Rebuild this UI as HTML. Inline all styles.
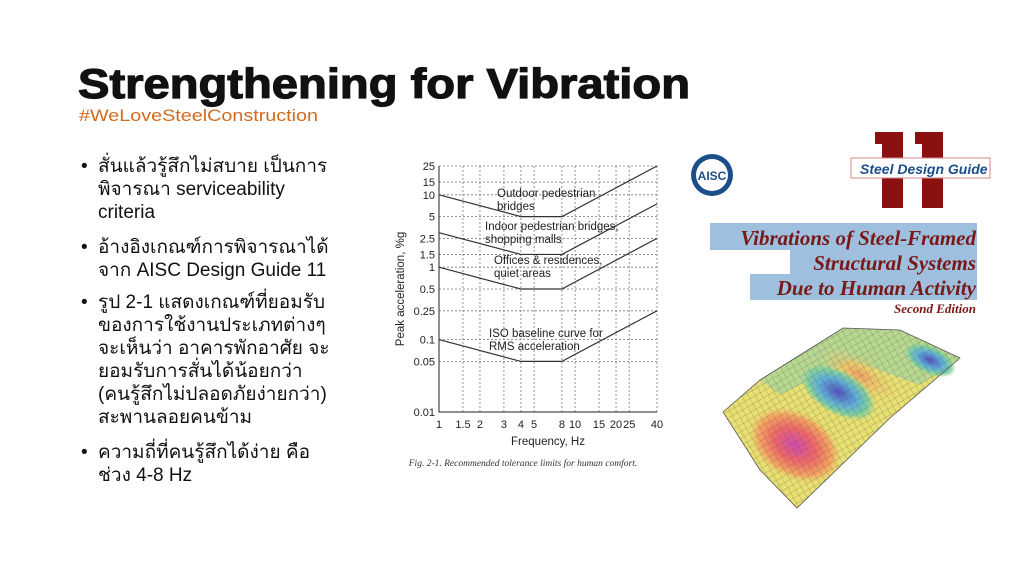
<!DOCTYPE html>
<html><head><meta charset="utf-8">
<style>
body{margin:0;width:1024px;height:576px;background:#fff;position:relative;overflow:hidden;font-family:"Liberation Sans",sans-serif}
.abs{position:absolute}
.bul{position:absolute;left:98px;font-size:19px;line-height:23px;color:#111;white-space:nowrap}
.bul:before{content:"•";position:absolute;left:-17px;top:0}
</style></head>
<body>
<svg class="abs" style="left:0;top:0" width="1024" height="130">
<text x="78" y="98" font-family="Liberation Sans" font-weight="bold" font-size="42" textLength="612" lengthAdjust="spacingAndGlyphs" fill="#111" stroke="#111" stroke-width="1.2">Strengthening for Vibration</text>
<text x="79" y="121" font-family="Liberation Sans" font-size="17" textLength="239" lengthAdjust="spacingAndGlyphs" fill="#d2691e">#WeLoveSteelConstruction</text>
</svg>
<div class="bul" style="top:155px">สั่นแล้วรู้สึกไม่สบาย เป็นการ<br>พิจารณา serviceability<br>criteria</div>
<div class="bul" style="top:236px">อ้างอิงเกณฑ์การพิจารณาได้<br>จาก AISC Design Guide 11</div>
<div class="bul" style="top:291px">รูป 2-1 แสดงเกณฑ์ที่ยอมรับ<br>ของการใช้งานประเภทต่างๆ<br>จะเห็นว่า อาคารพักอาศัย จะ<br>ยอมรับการสั่นได้น้อยกว่า<br>(คนรู้สึกไม่ปลอดภัยง่ายกว่า)<br>สะพานลอยคนข้าม</div>
<div class="bul" style="top:441px">ความถี่ที่คนรู้สึกได้ง่าย คือ<br>ช่วง 4-8 Hz</div>

<svg id="chart" class="abs" style="left:0;top:0" width="700" height="576"></svg>

<svg class="abs" style="left:0;top:0" width="1024" height="576">
<g>
<circle cx="712" cy="175" r="21" fill="#1c4f8a"/><circle cx="712" cy="175" r="16" fill="#fff"/>
<text x="712" y="180" text-anchor="middle" font-size="12" font-weight="bold" fill="#1c4f8a" font-family="Liberation Sans">AISC</text>
</g>
<g fill="#8b1010">
<rect x="882" y="132" width="21" height="76"/><rect x="875" y="132" width="10" height="12"/>
<rect x="922" y="132" width="21" height="76"/><rect x="915" y="132" width="10" height="12"/>
</g>
<rect x="851" y="158" width="139" height="20" fill="#fff" stroke="#c88"/>
<text x="860" y="174" font-size="14" font-weight="bold" font-style="italic" fill="#1c4f8a" font-family="Liberation Sans">Steel Design Guide</text>
<rect x="710" y="223" width="267" height="27" fill="#9ec0de"/><rect x="790" y="250" width="187" height="24" fill="#9ec0de"/><rect x="750" y="274" width="227" height="26" fill="#9ec0de"/>
<g font-family="Liberation Serif" font-weight="bold" font-style="italic" fill="#7a1818" font-size="21" text-anchor="end">
<text x="976" y="245">Vibrations of Steel-Framed</text>
<text x="976" y="270">Structural Systems</text>
<text x="976" y="295">Due to Human Activity</text>
<text x="976" y="313" font-size="13">Second Edition</text>
</g>
<defs>
<radialGradient id="rg1" cx="0.5" cy="0.5" r="0.5"><stop offset="0" stop-color="#d04ab0"/><stop offset="0.45" stop-color="#f06868"/><stop offset="0.8" stop-color="#f5a860"/><stop offset="1" stop-color="#f0d070" stop-opacity="0"/></radialGradient>
<radialGradient id="rg2" cx="0.5" cy="0.5" r="0.5"><stop offset="0" stop-color="#5050c0"/><stop offset="0.5" stop-color="#60b0d8"/><stop offset="0.8" stop-color="#80d0a0"/><stop offset="1" stop-color="#9fd49f" stop-opacity="0"/></radialGradient>
<radialGradient id="rg3" cx="0.5" cy="0.5" r="0.5"><stop offset="0" stop-color="#f0a060"/><stop offset="1" stop-color="#f0d070" stop-opacity="0"/></radialGradient>
<pattern id="grid" width="6" height="6" patternUnits="userSpaceOnUse" patternTransform="rotate(-30)"><path d="M0 0H6M0 0V6" stroke="#555" stroke-width="0.4" fill="none"/></pattern>
</defs>
<g>
<polygon points="723,412 760,380 843,328 900,330 960,358 890,418 797,508 760,470" fill="#e8e070"/>
<polygon points="760,380 843,328 900,330 960,358 920,385 850,360 780,395" fill="#b8d890"/>
<ellipse cx="860" cy="375" rx="45" ry="18" fill="url(#rg3)" transform="rotate(30 860 375)"/>
<ellipse cx="795" cy="445" rx="50" ry="34" fill="url(#rg1)" transform="rotate(30 795 445)"/>
<ellipse cx="838" cy="392" rx="42" ry="22" fill="url(#rg2)" transform="rotate(30 838 392)"/>
<ellipse cx="930" cy="360" rx="28" ry="14" fill="url(#rg2)" transform="rotate(25 930 360)"/>
<polygon points="723,412 760,380 843,328 900,330 960,358 890,418 797,508 760,470" fill="url(#grid)" stroke="#555" stroke-width="0.8"/>
</g>
</svg>

<script>
const yTicks=[25,15,10,5,2.5,1.5,1,0.5,0.25,0.1,0.05,0.01];
const xTicks=[1,1.5,2,3,4,5,8,10,15,20,25,40];
const freqs=[1,4,8,40];
const outdoor=[10,5,5,25];
const indoor=[3,1.5,1.5,7.5];
const offices=[1,0.5,0.5,2.5];
const iso=[0.1,0.05,0.05,0.25];
const NS='http://www.w3.org/2000/svg';
const svg=document.getElementById('chart');
const x0=439,x1=657,y0=166,y1=412;
const X=v=>x0+(Math.log10(v))/(Math.log10(40))*(x1-x0);
const Y=v=>y0+(Math.log10(25)-Math.log10(v))/(Math.log10(25)-Math.log10(0.01))*(y1-y0);
function mk(t,a,txt){const e=document.createElementNS(NS,t);for(const k in a)e.setAttribute(k,a[k]);if(txt!==undefined)e.textContent=txt;svg.appendChild(e);return e;}
yTicks.forEach(v=>{
 const l=mk('line',{x1:x0,x2:x1,y1:Y(v),y2:Y(v),stroke:'#777','stroke-width':0.8,'stroke-dasharray':'2,2'});
 
 
 const t=mk('text',{x:x0-4,y:Y(v)+4,'text-anchor':'end','font-size':11,fill:'#222','font-family':'Liberation Sans'},String(v));
 
 
});
xTicks.forEach(v=>{
 const l=mk('line',{x1:X(v),x2:X(v),y1:y0,y2:y1,stroke:'#777','stroke-width':0.8,'stroke-dasharray':'2,2'});
 
 
 const t=mk('text',{x:X(v),y:y1+16,'text-anchor':'middle','font-size':11,fill:'#222','font-family':'Liberation Sans'},String(v));
 
 
});
const ax=mk('path',{d:`M${x0} ${y0}V${y1}H${x1}`,stroke:'#222','stroke-width':1,fill:'none'});


[['outdoor-line',outdoor],['indoor-line',indoor],['offices-line',offices],['iso-line',iso]].forEach(([n,s])=>{
 const p=mk('polyline',{points:freqs.map((f,i)=>X(f)+','+Y(s[i])).join(' '),stroke:'#333','stroke-width':1.2,fill:'none'});
 
 
});
const labels=[['Outdoor pedestrian',497,197],['bridges',497,210],['Indoor pedestrian bridges,',485,230],['shopping malls',485,243],['Offices & residences,',494,264],['quiet areas',494,277],['ISO baseline curve for',489,337],['RMS acceleration',489,350]];
labels.forEach(([s,x,y])=>{
 const t=mk('text',{x:x,y:y,'font-size':11.5,fill:'#222','font-family':'Liberation Sans'},s);
 
 
});
const xt=mk('text',{x:548,y:445,'text-anchor':'middle','font-size':11.5,fill:'#222','font-family':'Liberation Sans'},'Frequency, Hz');


const yt=mk('text',{x:0,y:0,transform:'translate(404 289) rotate(-90)','text-anchor':'middle','font-size':11.5,fill:'#222','font-family':'Liberation Sans'},'Peak acceleration, %g');


const cap=mk('text',{x:523,y:466,'text-anchor':'middle','font-size':9.5,'font-style':'italic',fill:'#333','font-family':'Liberation Serif'},'Fig. 2-1.  Recommended tolerance limits for human comfort.');


</script>
</body></html>
